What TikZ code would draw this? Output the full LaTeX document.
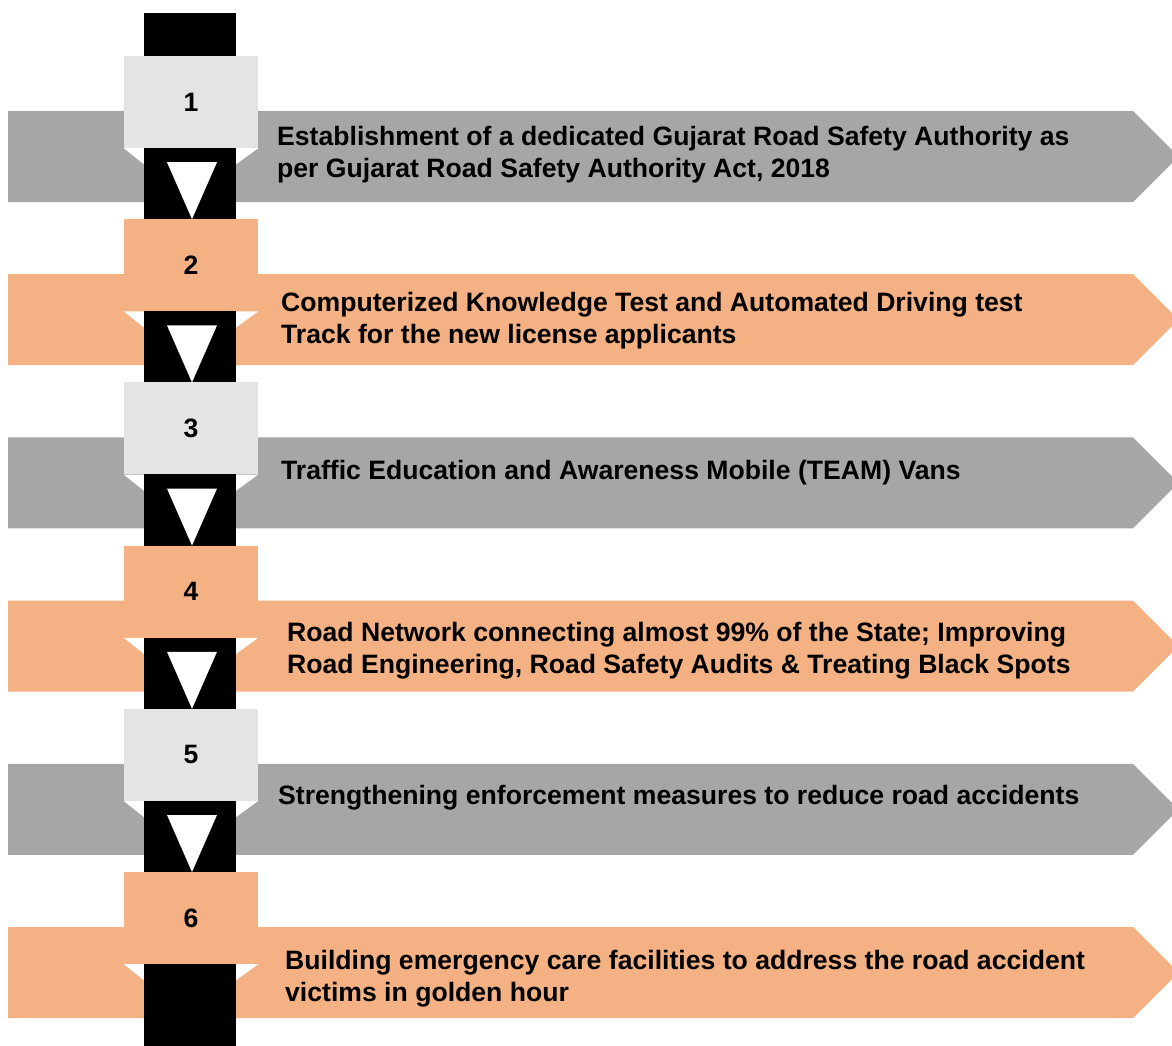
\documentclass[tikz,border=0pt]{standalone}
\usepackage{fontspec}
\setmainfont{Liberation Sans}
\definecolor{bannergray}{HTML}{A6A6A6}
\definecolor{numgray}{HTML}{E4E4E4}
\definecolor{steporange}{HTML}{F4B183}

\begin{document}
\begin{tikzpicture}[x=1pt,y=-1pt,
    every node/.style={font=\fontsize{26.6}{32}\selectfont\bfseries, inner sep=0},
    numbox/.style={rectangle, minimum width=134pt, minimum height=92pt}
  ]
    \useasboundingbox (0,0) rectangle (1172,1046);
    \clip (0,0) rectangle (1172,1046);
    % banners
    \foreach \i/\col in {0/bannergray,1/steporange,2/bannergray,3/steporange,4/bannergray,5/steporange}
        \fill[\col] (8,111+\i*163.2) -- ++(1125,0) -- ++(45.5,45.5) -- ++(-45.5,45.5) -- ++(-1125,0) -- cycle;
    % the black column
    \fill[black] (144,13) rectangle (236,1046);
    % number boxes and arrows
    \foreach \i/\col in {0/numgray,1/steporange,2/numgray,3/steporange,4/numgray,5/steporange}{
        \pgfmathtruncatemacro\n{\i+1}
        \node[numbox, fill=\col](num\n) at (191,102+\i*163.2){\n};
        \fill[white] (num\n.south west) -- ++(20,0) -- ++(0,16) -- cycle;
        \fill[white] (num\n.south east) -- ++(-22,0) -- ++(0,16) -- cycle;
        \ifnum\i<5
            \fill[white] (num\n.south) ++(-24,14) -- ++(50,0) -- ++(-25,57) -- cycle;
        \fi
    }
    % texts
    \node[anchor=west, align=left](txt1) at (277,155){Establishment of a dedicated Gujarat Road Safety Authority as\\per Gujarat Road Safety Authority Act, 2018};
    \node[anchor=west, align=left](txt2) at (281,321){Computerized Knowledge Test and Automated Driving test\\Track for the new license applicants};
    \node[anchor=west, align=left](txt3) at (281,473){Traffic Education and Awareness Mobile (TEAM) Vans};
    \node[anchor=west, align=left](txt4) at (287,651){Road Network connecting almost 99\% of the State; Improving\\Road Engineering, Road Safety Audits \& Treating Black Spots};
    \node[anchor=west, align=left](txt5) at (278,798){Strengthening enforcement measures to reduce road accidents};
    \node[anchor=west, align=left](txt6) at (285,979){Building emergency care facilities to address the road accident\\victims in golden hour};
\end{tikzpicture}
\end{document}
